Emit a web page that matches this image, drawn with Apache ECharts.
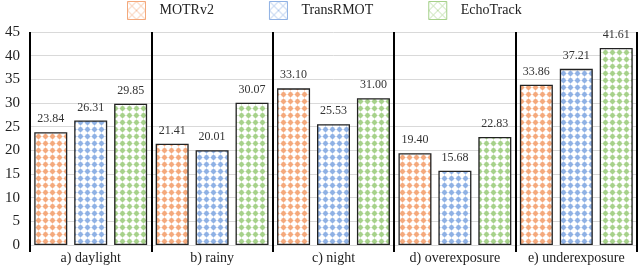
<!DOCTYPE html>
<html><head><meta charset="utf-8">
<script src="https://cdn.jsdelivr.net/npm/echarts@6/dist/echarts.min.js"></script>
<style>html,body{margin:0;padding:0;background:#fff}#c{width:640px;height:269px}</style>
</head><body><div id="c"></div>
<script>
const categories = ['a) daylight', 'b) rainy', 'c) night', 'd) overexposure', 'e) underexposure'];
const seriesNames = ['MOTRv2', 'TransRMOT', 'EchoTrack'];
const motrv2 = [23.84, 21.41, 33.10, 19.40, 33.86];
const transrmot = [26.31, 20.01, 25.53, 15.68, 37.21];
const echotrack = [29.85, 30.07, 31.00, 22.83, 41.61];
const colors = ['#F4A97C', '#8FB1E4', '#A6D18A'];
const yTicks = {min: 0, max: 45, interval: 5};

function dotPattern(col) {
  const c = document.createElement('canvas');
  c.width = 7; c.height = 7;
  const g = c.getContext('2d');
  g.fillStyle = '#fff'; g.fillRect(0, 0, 7, 7);
  g.fillStyle = col;
  g.beginPath(); g.arc(3.5, 3.5, 2.4, 0, Math.PI * 2); g.fill();
  g.fillRect(3, 0.6, 1, 5.8);
  g.fillRect(0.6, 3, 5.8, 1);
  return c;
}
function hatchPattern(col) {
  const c = document.createElement('canvas');
  c.width = 9; c.height = 9;
  const g = c.getContext('2d');
  g.fillStyle = '#fff'; g.fillRect(0, 0, 9, 9);
  g.strokeStyle = col; g.globalAlpha = 0.7; g.lineWidth = 1;
  g.beginPath(); g.moveTo(0, 0); g.lineTo(9, 9); g.moveTo(9, 0); g.lineTo(0, 9); g.stroke();
  return c;
}

const dataSets = [motrv2, transrmot, echotrack];
const font = '"Liberation Serif", "Times New Roman", serif';
const chart = echarts.init(document.getElementById('c'), null, {renderer: 'canvas'});
chart.setOption({
  animation: false,
  backgroundColor: '#fff',
  grid: {left: 30, right: 3, top: 32, bottom: 24, containLabel: false},
  legend: {
    top: 1, left: 127, padding: 0,
    itemWidth: 18, itemHeight: 18, itemGap: 55,
    textStyle: {fontFamily: font, fontSize: 14, color: '#222', padding: [0, 0, 0, 9]},
    data: seriesNames.map((n, i) => ({
      name: n, icon: 'rect',
      itemStyle: {color: {image: hatchPattern(colors[i]), repeat: 'repeat'}, borderColor: colors[i], borderWidth: 1}
    }))
  },
  xAxis: {
    type: 'category', data: categories,
    axisLine: {show: true, lineStyle: {color: '#d9d9d9', width: 1}},
    axisTick: {show: true, interval: 0, length: 7, lineStyle: {color: '#000', width: 2}},
    axisLabel: {interval: 0, fontFamily: font, fontSize: 14, color: '#222', margin: 6},
    splitLine: {show: true, interval: 0, lineStyle: {color: '#000', width: 2}}
  },
  yAxis: {
    type: 'value', min: yTicks.min, max: yTicks.max, interval: yTicks.interval,
    axisLine: {show: false}, axisTick: {show: false},
    axisLabel: {fontFamily: font, fontSize: 15, color: '#222', margin: 10},
    splitLine: {lineStyle: {color: '#d9d9d9', width: 1}}
  },
  series: dataSets.map((d, i) => ({
    name: seriesNames[i], type: 'bar', data: d,
    barWidth: 33, barGap: '21%',
    itemStyle: {color: {image: dotPattern(colors[i]), repeat: 'repeat'}, borderColor: '#222', borderWidth: 1.3},
    label: {show: true, position: 'top', distance: 7, fontFamily: font, fontSize: 12, color: '#333',
      formatter: p => p.value.toFixed(2)}
  }))
});
</script></body></html>
